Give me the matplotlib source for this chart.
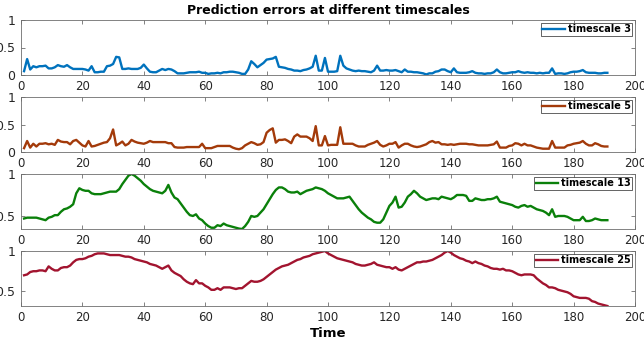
import numpy as np
from matplotlib import pyplot as plt

# prediction error per time step, one list per timescale
ts3 = [0.07,0.29,0.10,0.16,0.14,0.16,0.16,0.17,0.12,0.12,
       0.14,0.18,0.16,0.15,0.18,0.14,0.11,0.11,0.11,0.11,
       0.10,0.08,0.16,0.05,0.05,0.06,0.06,0.16,0.17,0.20,
       0.33,0.32,0.11,0.11,0.12,0.11,0.11,0.11,0.13,0.19,
       0.12,0.06,0.05,0.05,0.08,0.11,0.09,0.11,0.10,0.07,
       0.03,0.03,0.03,0.04,0.05,0.05,0.05,0.06,0.04,0.04,
       0.02,0.03,0.03,0.04,0.03,0.05,0.05,0.06,0.06,0.05,
       0.04,0.02,0.02,0.10,0.25,0.20,0.14,0.18,0.22,0.28,
       0.29,0.30,0.33,0.15,0.14,0.13,0.11,0.10,0.08,0.08,
       0.07,0.09,0.10,0.12,0.15,0.35,0.08,0.08,0.31,0.06,
       0.06,0.06,0.07,0.35,0.17,0.12,0.10,0.08,0.07,0.08,
       0.07,0.07,0.06,0.05,0.08,0.17,0.08,0.08,0.09,0.08,
       0.08,0.09,0.07,0.05,0.10,0.06,0.06,0.05,0.05,0.04,
       0.03,0.01,0.03,0.03,0.06,0.07,0.10,0.10,0.07,0.05,
       0.12,0.05,0.04,0.04,0.04,0.05,0.07,0.04,0.03,0.03,
       0.02,0.03,0.03,0.05,0.10,0.05,0.03,0.03,0.04,0.05,
       0.05,0.07,0.05,0.04,0.05,0.04,0.04,0.03,0.04,0.03,
       0.04,0.04,0.12,0.02,0.03,0.03,0.02,0.03,0.05,0.06,
       0.06,0.07,0.09,0.05,0.04,0.04,0.04,0.03,0.03,0.04,0.04]

ts5 = [0.07,0.20,0.08,0.15,0.10,0.15,0.15,0.16,0.14,0.15,
       0.13,0.22,0.19,0.18,0.18,0.14,0.20,0.22,0.17,0.12,
       0.10,0.20,0.10,0.11,0.13,0.15,0.17,0.18,0.25,0.41,
       0.12,0.15,0.19,0.12,0.15,0.22,0.19,0.17,0.16,0.15,
       0.17,0.20,0.18,0.18,0.18,0.18,0.18,0.16,0.16,0.09,
       0.08,0.08,0.08,0.09,0.09,0.09,0.09,0.09,0.15,0.07,
       0.07,0.07,0.09,0.11,0.11,0.11,0.11,0.11,0.08,0.06,
       0.05,0.07,0.12,0.15,0.18,0.16,0.13,0.14,0.18,0.35,
       0.40,0.43,0.17,0.22,0.22,0.23,0.20,0.16,0.28,0.32,
       0.28,0.28,0.28,0.25,0.20,0.47,0.12,0.12,0.29,0.12,
       0.13,0.13,0.13,0.45,0.15,0.15,0.15,0.15,0.12,0.10,
       0.10,0.10,0.13,0.15,0.17,0.20,0.13,0.10,0.12,0.15,
       0.15,0.18,0.08,0.12,0.15,0.15,0.12,0.10,0.09,0.10,
       0.12,0.14,0.18,0.20,0.17,0.18,0.14,0.14,0.13,0.14,
       0.13,0.14,0.15,0.15,0.15,0.14,0.14,0.13,0.12,0.12,
       0.12,0.12,0.13,0.14,0.19,0.08,0.08,0.08,0.11,0.12,
       0.16,0.15,0.12,0.15,0.12,0.12,0.10,0.08,0.07,0.06,
       0.06,0.06,0.20,0.08,0.08,0.08,0.08,0.12,0.13,0.15,
       0.16,0.17,0.20,0.15,0.12,0.12,0.16,0.14,0.11,0.10,0.10]

ts13 = [0.47,0.48,0.48,0.48,0.48,0.47,0.46,0.45,0.48,0.49,
        0.51,0.51,0.55,0.58,0.59,0.61,0.64,0.77,0.83,0.81,
        0.80,0.80,0.77,0.76,0.76,0.76,0.77,0.78,0.79,0.79,
        0.79,0.82,0.88,0.93,0.98,1.00,0.98,0.95,0.92,0.88,
        0.85,0.82,0.80,0.79,0.78,0.77,0.80,0.87,0.78,0.72,
        0.70,0.65,0.60,0.55,0.51,0.50,0.52,0.47,0.45,0.41,
        0.38,0.36,0.36,0.39,0.38,0.41,0.39,0.38,0.37,0.36,
        0.35,0.345,0.38,0.43,0.50,0.49,0.50,0.54,0.58,0.64,
        0.70,0.76,0.81,0.84,0.84,0.82,0.79,0.78,0.78,0.79,
        0.76,0.78,0.80,0.81,0.82,0.84,0.83,0.82,0.80,0.77,
        0.75,0.73,0.71,0.71,0.71,0.72,0.73,0.68,0.63,0.58,
        0.54,0.51,0.48,0.46,0.43,0.42,0.42,0.46,0.54,0.62,
        0.66,0.73,0.60,0.61,0.66,0.73,0.76,0.80,0.77,0.73,
        0.71,0.69,0.70,0.71,0.71,0.70,0.73,0.72,0.71,0.70,
        0.72,0.75,0.75,0.75,0.74,0.68,0.68,0.71,0.70,0.69,
        0.69,0.70,0.70,0.71,0.73,0.67,0.66,0.65,0.64,0.63,
        0.61,0.60,0.62,0.63,0.61,0.62,0.60,0.58,0.57,0.56,
        0.54,0.51,0.58,0.49,0.50,0.50,0.50,0.49,0.47,0.45,
        0.45,0.45,0.49,0.44,0.44,0.45,0.47,0.46,0.45,0.45,0.45]

ts25 = [0.70,0.71,0.74,0.75,0.75,0.76,0.76,0.75,0.81,0.78,
        0.76,0.76,0.79,0.80,0.80,0.82,0.86,0.89,0.90,0.90,
        0.91,0.93,0.94,0.96,0.97,0.97,0.97,0.96,0.95,0.95,
        0.95,0.95,0.94,0.93,0.93,0.92,0.90,0.89,0.88,0.87,
        0.86,0.84,0.83,0.82,0.80,0.78,0.80,0.82,0.76,0.73,
        0.71,0.69,0.65,0.62,0.60,0.59,0.64,0.60,0.60,0.57,
        0.55,0.52,0.52,0.54,0.52,0.55,0.55,0.55,0.54,0.53,
        0.54,0.54,0.57,0.60,0.63,0.62,0.62,0.63,0.65,0.68,
        0.71,0.74,0.77,0.79,0.81,0.82,0.83,0.85,0.87,0.89,
        0.90,0.92,0.93,0.94,0.96,0.97,0.98,0.99,1.00,0.97,
        0.95,0.93,0.91,0.90,0.89,0.88,0.87,0.86,0.84,0.83,
        0.82,0.82,0.83,0.84,0.86,0.83,0.82,0.81,0.80,0.80,
        0.78,0.80,0.77,0.76,0.78,0.80,0.82,0.84,0.86,0.86,
        0.87,0.87,0.88,0.89,0.91,0.93,0.95,0.98,1.00,0.98,
        0.95,0.93,0.91,0.90,0.88,0.87,0.85,0.87,0.85,0.84,
        0.82,0.81,0.79,0.78,0.78,0.77,0.78,0.76,0.76,0.75,
        0.73,0.71,0.70,0.71,0.71,0.71,0.70,0.66,0.63,0.60,
        0.58,0.55,0.55,0.54,0.52,0.51,0.50,0.49,0.47,0.44,
        0.43,0.42,0.42,0.42,0.41,0.38,0.37,0.35,0.34,0.33,0.32]

series = [ts3, ts5, ts13, ts25]
labels = ["timescale 3", "timescale 5", "timescale 13", "timescale 25"]
colors = ["#0072BD", "#A33A0A", "#0A800A", "#A2142F"]

fig = plt.figure(figsize=(6.44, 3.41), dpi=100)
tops = [20, 97, 174, 251]
spine_c = "#6e6e6e"
text_c = "#262626"

for i, s in enumerate(series):
    top = tops[i]
    ax = fig.add_axes([21/644, 1 - (top + 55)/341, 614/644, 55/341])
    t = np.arange(1, len(s) + 1)
    ax.plot(t, s, color=colors[i], lw=1.7, label=labels[i])
    ax.set_xticks(range(0, 201, 20))
    ax.set_yticks([0, 0.5, 1])
    ax.set_yticklabels(["0", "0.5", "1"])
    ax.set_xlim(0, 200)
    lo = 0 if i < 2 else min(s)
    ax.set_ylim(lo, 1)
    ax.tick_params(direction="in", top=True, right=True, length=3,
                   labelsize=8.5, colors=spine_c, labelcolor=text_c, width=0.6)
    ax.tick_params(axis="y", pad=4, labelsize=9)
    for sp in ax.spines.values():
        sp.set_color(spine_c)
        sp.set_linewidth(0.6)
    leg = ax.legend(loc="upper right", prop={"weight": "bold", "size": 7},
                    handlelength=2.3, borderpad=0.15, handletextpad=0.3,
                    fancybox=False, framealpha=1, borderaxespad=0.3)
    leg.get_frame().set_edgecolor(text_c)
    leg.get_frame().set_linewidth(0.5)
    if i == 0:
        ax.set_title("Prediction errors at different timescales", fontsize=9,
                     fontweight="bold", pad=4)
    if i == 3:
        ax.set_xlabel("Time", fontsize=9.5, fontweight="bold", labelpad=2)

plt.savefig("out.png", dpi=100)
